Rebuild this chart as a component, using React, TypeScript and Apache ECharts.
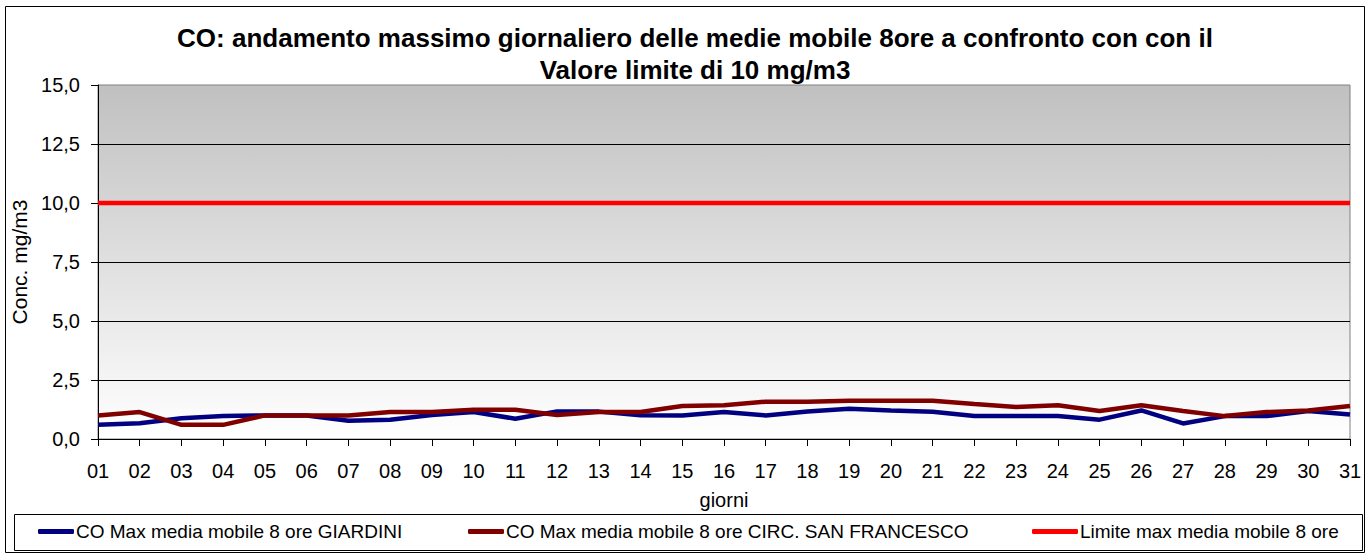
import React, { useEffect, useRef } from "react";
import * as echarts from "echarts";

const days = ["01","02","03","04","05","06","07","08","09","10","11","12","13","14","15","16","17","18","19","20","21","22","23","24","25","26","27","28","29","30","31"];
const giardini = [0.6,0.67,0.88,0.97,1.0,1.0,0.77,0.82,1.02,1.14,0.86,1.17,1.16,1.01,1.0,1.14,1.0,1.17,1.28,1.21,1.15,0.97,0.97,0.97,0.82,1.21,0.66,0.97,0.97,1.19,1.04];
const sanFrancesco = [1.0,1.14,0.6,0.6,1.0,1.0,1.0,1.14,1.14,1.24,1.24,1.02,1.14,1.14,1.4,1.43,1.58,1.58,1.62,1.62,1.62,1.48,1.36,1.43,1.19,1.43,1.19,0.97,1.14,1.21,1.4];
const limite = [10,10,10,10,10,10,10,10,10,10,10,10,10,10,10,10,10,10,10,10,10,10,10,10,10,10,10,10,10,10,10];
const seriesNames = [
  "CO Max media mobile 8 ore GIARDINI",
  "CO Max media mobile 8 ore CIRC. SAN FRANCESCO",
  "Limite max media mobile 8 ore",
];
const titleLines = "CO: andamento massimo giornaliero delle medie mobile 8ore a confronto con con il\nValore limite di 10 mg/m3";

const FONT = "'Liberation Sans', Arial, sans-serif";

export default function App() {
  const ref = useRef<HTMLDivElement>(null);
  useEffect(() => {
    if (!ref.current) return;
    const chart = echarts.init(ref.current, null, { renderer: "svg" });
    const legendBase = (name: string, left: number, color: string, w: number) => ({
      show: true,
      left,
      top: 522,
      orient: "horizontal",
      icon: "roundRect",
      itemWidth: w,
      itemHeight: 5,
      itemGap: 0,
      padding: 0,
      textStyle: { fontFamily: FONT, fontSize: 19, color: "#000", padding: [0, 0, 0, -3] },
      data: [{ name, itemStyle: { color } }],
    });
    chart.setOption({
      animation: false,
      backgroundColor: "#ffffff",
      textStyle: { fontFamily: FONT },
      title: {
        text: titleLines,
        left: 690,
        top: 17,
        textAlign: "center",
        textStyle: { fontFamily: FONT, fontSize: 26, fontWeight: "bold", color: "#000", lineHeight: 32 },
      },
      legend: [
        legendBase(seriesNames[0], 38, "#000080", 36),
        legendBase(seriesNames[1], 468, "#800000", 36),
        legendBase(seriesNames[2], 1032, "#ff0000", 46),
      ],
      graphic: [
        { type: "rect", shape: { x: 5.5, y: 6.5, width: 1359, height: 546 }, style: { fill: "none", stroke: "#000", lineWidth: 1 }, silent: true, z: -1 },
        { type: "rect", shape: { x: 14.5, y: 514.5, width: 1348, height: 36 }, style: { fill: "none", stroke: "#000", lineWidth: 1 }, silent: true, z: -1 },
      ],
      grid: {
        left: 98,
        right: 20,
        top: 85,
        bottom: 116,
        show: true,
        borderColor: "#808080",
        borderWidth: 1,
        backgroundColor: new echarts.graphic.LinearGradient(0, 0, 0, 1, [
          { offset: 0, color: "#c0c0c0" },
          { offset: 1, color: "#ffffff" },
        ]),
      },
      xAxis: {
        type: "category",
        data: days,
        boundaryGap: false,
        name: "giorni",
        nameLocation: "middle",
        nameGap: 51,
        nameTextStyle: { fontFamily: FONT, fontSize: 20, color: "#000" },
        axisLine: { show: true, lineStyle: { color: "#000", width: 1 } },
        axisTick: { show: true, length: 7, alignWithLabel: true, lineStyle: { color: "#000" } },
        axisLabel: { fontFamily: FONT, fontSize: 20, color: "#000", margin: 22, interval: 0 },
        splitLine: { show: false },
      },
      yAxis: {
        type: "value",
        min: 0,
        max: 15,
        interval: 2.5,
        name: "Conc. mg/m3",
        nameLocation: "middle",
        nameGap: 62,
        nameRotate: 90,
        nameTextStyle: { fontFamily: FONT, fontSize: 21, color: "#000", verticalAlign: "middle" },
        axisLine: { show: true, lineStyle: { color: "#000", width: 1 } },
        axisTick: { show: true, length: 7, lineStyle: { color: "#000" } },
        axisLabel: {
          fontFamily: FONT,
          fontSize: 20,
          color: "#000",
          margin: 18,
          formatter: (v: number) => v.toFixed(1).replace(".", ","),
        },
        splitLine: { show: true, showMaxLine: false, lineStyle: { color: "#000", width: 1 } },
      },
      series: [
        { name: seriesNames[0], type: "line", data: giardini, showSymbol: false, symbol: "none", lineStyle: { color: "#000080", width: 4.5 }, itemStyle: { color: "#000080" } },
        { name: seriesNames[1], type: "line", data: sanFrancesco, showSymbol: false, symbol: "none", lineStyle: { color: "#800000", width: 4.5 }, itemStyle: { color: "#800000" } },
        { name: seriesNames[2], type: "line", data: limite, showSymbol: false, symbol: "none", lineStyle: { color: "#ff0000", width: 4.5 }, itemStyle: { color: "#ff0000" } },
      ],
    });
    return () => chart.dispose();
  }, []);
  return <div ref={ref} style={{ position: "absolute", left: 0, top: 0, width: 1370, height: 555 }} />;
}
